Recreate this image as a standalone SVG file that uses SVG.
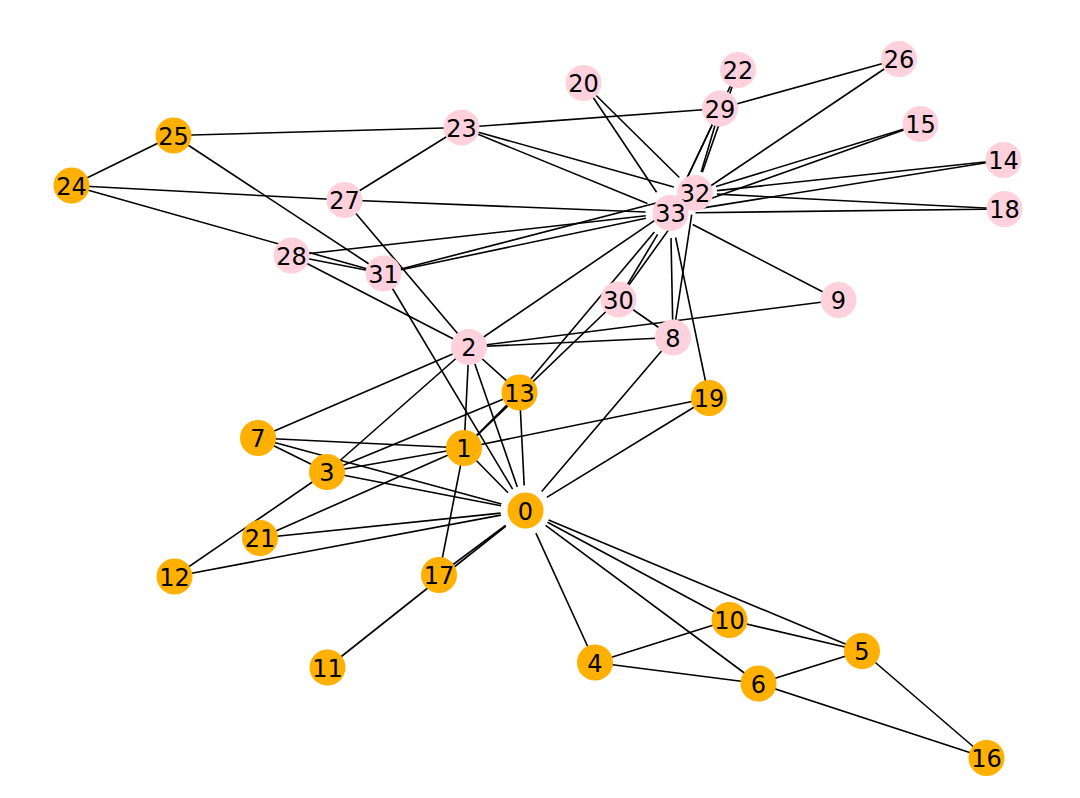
<svg xmlns="http://www.w3.org/2000/svg" width="1080" height="798" viewBox="0 0 1080 798">
<style>
.e line{stroke:#000;stroke-width:1.6;stroke-linecap:butt}
.a circle{fill:#ffb000}
.p circle{fill:#ffd1dc}
text{font-family:"DejaVu Sans",sans-serif;font-size:24px;fill:#000;text-anchor:middle}
</style>
<rect width="1080" height="798" fill="#fff"/>
<g id="edges" class="e">
<line x1="508" y1="492.7" x2="464" y2="448"/>
<line x1="517.3" y1="486.9" x2="469" y2="347"/>
<line x1="501" y1="505.7" x2="327" y2="472"/>
<line x1="535.9" y1="533.2" x2="595" y2="662.5"/>
<line x1="548.6" y1="520.1" x2="862" y2="651"/>
<line x1="545.6" y1="525.4" x2="758.5" y2="683.5"/>
<line x1="501.4" y1="504" x2="258" y2="438"/>
<line x1="541.7" y1="491.5" x2="673" y2="337.5"/>
<line x1="547.5" y1="522.3" x2="729.5" y2="620"/>
<line x1="505.9" y1="526" x2="327.5" y2="667.5"/>
<line x1="500.9" y1="515.1" x2="174.5" y2="576.5"/>
<line x1="524.2" y1="485.5" x2="519.5" y2="392.5"/>
<line x1="505.5" y1="525.4" x2="439" y2="575"/>
<line x1="546.8" y1="497.4" x2="709" y2="398"/>
<line x1="500.6" y1="513.1" x2="260" y2="538"/>
<line x1="512.6" y1="489.1" x2="383.5" y2="273.5"/>
<line x1="464" y1="448" x2="469" y2="347"/>
<line x1="464" y1="448" x2="327" y2="472"/>
<line x1="464" y1="448" x2="258" y2="438"/>
<line x1="464" y1="448" x2="519.5" y2="392.5"/>
<line x1="464" y1="448" x2="439" y2="575"/>
<line x1="464" y1="448" x2="709" y2="398"/>
<line x1="464" y1="448" x2="260" y2="538"/>
<line x1="464" y1="448" x2="618.5" y2="299.5"/>
<line x1="469" y1="347" x2="327" y2="472"/>
<line x1="469" y1="347" x2="258" y2="438"/>
<line x1="469" y1="347" x2="673" y2="337.5"/>
<line x1="469" y1="347" x2="838.5" y2="300"/>
<line x1="469" y1="347" x2="519.5" y2="392.5"/>
<line x1="469" y1="347" x2="344.5" y2="200"/>
<line x1="469" y1="347" x2="291.5" y2="255.5"/>
<line x1="469" y1="347" x2="676.8" y2="205.4"/>
<line x1="327" y1="472" x2="258" y2="438"/>
<line x1="327" y1="472" x2="174.5" y2="576.5"/>
<line x1="327" y1="472" x2="519.5" y2="392.5"/>
<line x1="595" y1="662.5" x2="758.5" y2="683.5"/>
<line x1="595" y1="662.5" x2="729.5" y2="620"/>
<line x1="862" y1="651" x2="758.5" y2="683.5"/>
<line x1="862" y1="651" x2="729.5" y2="620"/>
<line x1="862" y1="651" x2="986.5" y2="758"/>
<line x1="758.5" y1="683.5" x2="986.5" y2="758"/>
<line x1="673" y1="337.5" x2="618.5" y2="299.5"/>
<line x1="673" y1="337.5" x2="691.7" y2="214.7"/>
<line x1="673" y1="337.5" x2="671" y2="238"/>
<line x1="838.5" y1="300" x2="692.7" y2="224.5"/>
<line x1="519.5" y1="392.5" x2="654.4" y2="232.1"/>
<line x1="1003.5" y1="160" x2="716.9" y2="190.6"/>
<line x1="1003.5" y1="160" x2="695.2" y2="209.1"/>
<line x1="920.5" y1="124" x2="716" y2="186.6"/>
<line x1="920.5" y1="124" x2="694" y2="204.6"/>
<line x1="1004.5" y1="209" x2="717" y2="194.1"/>
<line x1="1004.5" y1="209" x2="695.5" y2="212.7"/>
<line x1="709" y1="398" x2="675.6" y2="237.5"/>
<line x1="583.5" y1="83" x2="679.3" y2="177.5"/>
<line x1="583.5" y1="83" x2="656.6" y2="192.2"/>
<line x1="738" y1="70" x2="702.3" y2="172.2"/>
<line x1="738" y1="70" x2="681.2" y2="190.4"/>
<line x1="461.5" y1="127.5" x2="173.5" y2="135.5"/>
<line x1="461.5" y1="127.5" x2="344.5" y2="200"/>
<line x1="461.5" y1="127.5" x2="720" y2="108.5"/>
<line x1="461.5" y1="127.5" x2="673.8" y2="187"/>
<line x1="461.5" y1="127.5" x2="647.4" y2="203.5"/>
<line x1="71.5" y1="185.5" x2="173.5" y2="135.5"/>
<line x1="71.5" y1="185.5" x2="344.5" y2="200"/>
<line x1="71.5" y1="185.5" x2="383.5" y2="273.5"/>
<line x1="173.5" y1="135.5" x2="383.5" y2="273.5"/>
<line x1="899" y1="59" x2="720" y2="108.5"/>
<line x1="899" y1="59" x2="691.2" y2="199"/>
<line x1="344.5" y1="200" x2="645.5" y2="212"/>
<line x1="291.5" y1="255.5" x2="383.5" y2="273.5"/>
<line x1="291.5" y1="255.5" x2="645.7" y2="215.8"/>
<line x1="720" y1="108.5" x2="701.2" y2="171.9"/>
<line x1="720" y1="108.5" x2="681.2" y2="190.4"/>
<line x1="618.5" y1="299.5" x2="682.2" y2="210.9"/>
<line x1="618.5" y1="299.5" x2="657.6" y2="234.4"/>
<line x1="383.5" y1="273.5" x2="673.7" y2="198.5"/>
<line x1="383.5" y1="273.5" x2="646" y2="218.2"/>
</g>
<g id="n0" class="a"><circle cx="525.5" cy="510.5" r="18"/><text x="525.5" y="519.5">0</text></g>
<g id="n1" class="a"><circle cx="464" cy="448" r="18"/><text x="464" y="457">1</text></g>
<g id="n2" class="p"><circle cx="469" cy="347" r="18"/><text x="469" y="356">2</text></g>
<g id="n3" class="a"><circle cx="327" cy="472" r="18"/><text x="327" y="481">3</text></g>
<g id="n4" class="a"><circle cx="595" cy="662.5" r="18"/><text x="595" y="671.5">4</text></g>
<g id="n5" class="a"><circle cx="862" cy="651" r="18"/><text x="862" y="660">5</text></g>
<g id="n6" class="a"><circle cx="758.5" cy="683.5" r="18"/><text x="758.5" y="692.5">6</text></g>
<g id="n7" class="a"><circle cx="258" cy="438" r="18"/><text x="258" y="447">7</text></g>
<g id="n8" class="p"><circle cx="673" cy="337.5" r="18"/><text x="673" y="346.5">8</text></g>
<g id="n9" class="p"><circle cx="838.5" cy="300" r="18"/><text x="838.5" y="309">9</text></g>
<g id="n10" class="a"><circle cx="729.5" cy="620" r="18"/><text x="729.5" y="629">10</text></g>
<g id="n11" class="a"><circle cx="327.5" cy="667.5" r="18"/><text x="327.5" y="676.5">11</text></g>
<g id="n12" class="a"><circle cx="174.5" cy="576.5" r="18"/><text x="174.5" y="585.5">12</text></g>
<g id="n13" class="a"><circle cx="519.5" cy="392.5" r="18"/><text x="519.5" y="401.5">13</text></g>
<g id="n14" class="p"><circle cx="1003.5" cy="160" r="18"/><text x="1003.5" y="169">14</text></g>
<g id="n15" class="p"><circle cx="920.5" cy="124" r="18"/><text x="920.5" y="133">15</text></g>
<g id="n16" class="a"><circle cx="986.5" cy="758" r="18"/><text x="986.5" y="767">16</text></g>
<g id="n17" class="a"><circle cx="439" cy="575" r="18"/><text x="439" y="584">17</text></g>
<g id="n18" class="p"><circle cx="1004.5" cy="209" r="18"/><text x="1004.5" y="218">18</text></g>
<g id="n19" class="a"><circle cx="709" cy="398" r="18"/><text x="709" y="407">19</text></g>
<g id="n20" class="p"><circle cx="583.5" cy="83" r="18"/><text x="583.5" y="92">20</text></g>
<g id="n21" class="a"><circle cx="260" cy="538" r="18"/><text x="260" y="547">21</text></g>
<g id="n22" class="p"><circle cx="738" cy="70" r="18"/><text x="738" y="79">22</text></g>
<g id="n23" class="p"><circle cx="461.5" cy="127.5" r="18"/><text x="461.5" y="136.5">23</text></g>
<g id="n24" class="a"><circle cx="71.5" cy="185.5" r="18"/><text x="71.5" y="194.5">24</text></g>
<g id="n25" class="a"><circle cx="173.5" cy="135.5" r="18"/><text x="173.5" y="144.5">25</text></g>
<g id="n26" class="p"><circle cx="899" cy="59" r="18"/><text x="899" y="68">26</text></g>
<g id="n27" class="p"><circle cx="344.5" cy="200" r="18"/><text x="344.5" y="209">27</text></g>
<g id="n28" class="p"><circle cx="291.5" cy="255.5" r="18"/><text x="291.5" y="264.5">28</text></g>
<g id="n29" class="p"><circle cx="720" cy="108.5" r="18"/><text x="720" y="117.5">29</text></g>
<g id="n30" class="p"><circle cx="618.5" cy="299.5" r="18"/><text x="618.5" y="308.5">30</text></g>
<g id="n31" class="p"><circle cx="383.5" cy="273.5" r="18"/><text x="383.5" y="282.5">31</text></g>
<g id="n32" class="p"><circle cx="695" cy="193" r="18"/><text x="695" y="202">32</text></g>
<g id="n33" class="p"><circle cx="670.5" cy="213" r="18"/><text x="670.5" y="222">33</text></g>
</svg>
